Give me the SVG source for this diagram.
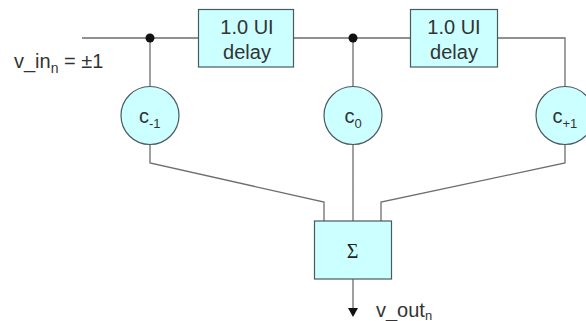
<svg xmlns="http://www.w3.org/2000/svg" width="586" height="321" viewBox="0 0 586 321">
<style>
.n{fill:#ccffff;stroke:#4a5a5e;stroke-width:1.2}
.w{fill:none;stroke:#6e6e6e;stroke-width:1.3}
.t{font-family:"Liberation Sans",Arial,sans-serif;fill:#333;font-size:20px}
.m{text-anchor:middle}
.s{font-size:13px}
</style>
<rect width="586" height="321" fill="#fff"/>
<g id="connectors">
<path class="w" d="M82 38H198M293 38H410M498 38H565V87M150 38V87M353 38V87M150 145V163L324 202V221M353 145V221M565 145V163L381 202V221M353 279V310"/>
<circle cx="150" cy="38" r="4.500" fill="#111"/>
<circle cx="353" cy="38" r="4.500" fill="#111"/>
<path d="M348 308H358L353 317Z" fill="#111"/>
</g>
<g id="delay1"><rect class="n" x="198.500" y="9.500" width="95" height="57.500"/><text class="t m" x="247" y="33.500">1.0 UI</text><text class="t m" x="247" y="59">delay</text></g>
<g id="delay2"><rect class="n" x="410.500" y="9.500" width="87" height="57.500"/><text class="t m" x="454" y="33.500">1.0 UI</text><text class="t m" x="454" y="59">delay</text></g>
<g id="c-1"><circle class="n" cx="150" cy="115.500" r="29"/><text class="t" x="139" y="123">c<tspan class="s" dy="5">-1</tspan></text></g>
<g id="c0"><circle class="n" cx="353" cy="115.500" r="29"/><text class="t" x="344.500" y="123">c<tspan class="s" dy="5" font-size="15">0</tspan></text></g>
<g id="c+1"><circle class="n" cx="565" cy="115.500" r="29"/><text class="t" x="552.500" y="123">c<tspan class="s" dy="5">+1</tspan></text></g>
<g id="sum"><rect class="n" x="314.500" y="221" width="77" height="58"/><text x="352.500" y="258" text-anchor="middle" font-family="Liberation Serif,serif" font-size="20" fill="#222">Σ</text></g>
<g id="labels">
<text class="t" x="14" y="68">v_in<tspan font-size="14" dy="5">n</tspan><tspan dy="-5"> = ±1</tspan></text>
<text class="t" x="376" y="316.500">v_out<tspan font-size="13" dy="3">n</tspan></text>
</g>
</svg>
